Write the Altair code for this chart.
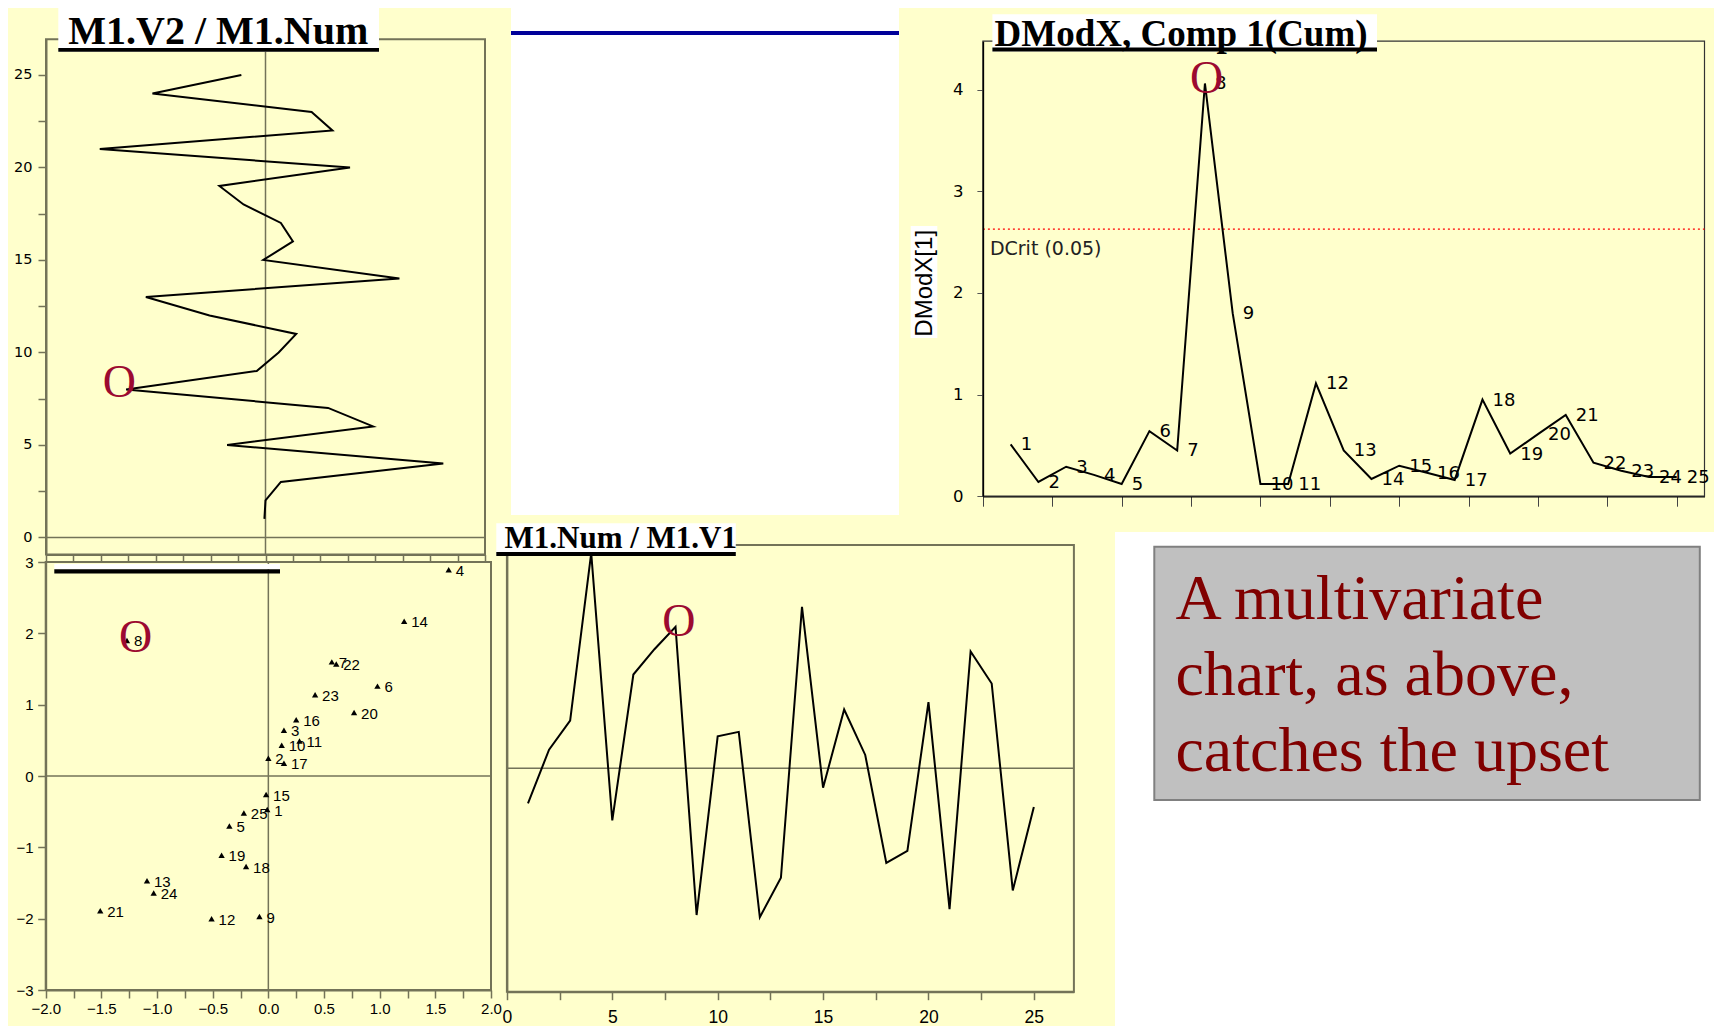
import altair as alt
import pandas as pd

# ---------------- data ----------------
obs = list(range(1, 26))
v1 = [-0.47, 0.25, 0.64, 2.89, -0.70, 1.26, 1.60, 1.90, -1.97, 0.43,
      0.49, -2.00, -1.47, 2.17, -0.26, 0.79, 0.18, -1.27, -1.11, 0.89,
      -1.89, 1.57, 1.14, -1.64, -0.52]
v2 = [-0.01, 0.00, 0.14, 1.62, -0.35, 0.98, 0.57, -1.27, -0.08, 0.12,
      0.28, -0.51, -1.09, 1.22, -0.02, 0.25, 0.14, -0.20, -0.42, 0.77,
      -1.51, 0.61, 0.42, -1.03, -0.22]
dmodx = [0.51, 0.14, 0.29, 0.21, 0.12, 0.64, 0.45, 4.06, 1.80, 0.12,
         0.12, 1.11, 0.45, 0.17, 0.30, 0.23, 0.16, 0.95, 0.42, 0.61,
         0.80, 0.33, 0.25, 0.19, 0.19]
dcrit = 2.627
outlier = 8

panel_titles = ["M1.V2 / M1.Num", "DModX, Comp 1(Cum)", "M1.Num / M1.V1"]
dmodx_axis_title = "DModX[1]"
dcrit_label = "DCrit (0.05)"
note_lines = ["A multivariate", "chart, as above,", "catches the upset"]

# tick values
a_xticks = [-2 + 0.25 * i for i in range(17)]
a_yticks = [2.5 * i for i in range(11)]
d_xticks = [2.5 * i for i in range(11)]
d_yticks = [0.5 * i for i in range(9)]
s_xticks = [-2 + 0.25 * i for i in range(17)]
s_yticks = [-3 + 0.5 * i for i in range(13)]
b_xticks = [2.5 * i for i in range(11)]

df = pd.DataFrame({"num": obs, "v1": v1, "v2": v2, "dmodx": dmodx,
                   "label": [str(n) for n in obs]})
one = pd.DataFrame({"k": [0]})

W, H = 1706, 1018
YELLOW = "#FFFFCC"
OLIVE = "#737358"
OCOL = "#9C0A30"


def sc(domain, rng):
    return alt.Scale(domain=domain, range=rng, nice=False, zero=False)


def ax(**kw):
    base = dict(title=None, grid=False, labelFlush=False, labelOverlap=False,
                labelColor="black")
    base.update(kw)
    return alt.Axis(**base)


def box(x1, x2, y1, y2, **mk):
    return alt.Chart(one).mark_rect(**mk).encode(
        x=alt.value(x1), x2=alt.value(x2), y=alt.value(y1), y2=alt.value(y2))


def frame(xs, ys, xd, yd, color, width):
    return alt.Chart(one).mark_rect(fillOpacity=0, stroke=color, strokeWidth=width).encode(
        x=alt.XDatum(xd[0], scale=xs, axis=None), x2=alt.X2Datum(xd[1]),
        y=alt.YDatum(yd[0], scale=ys, axis=None), y2=alt.Y2Datum(yd[1]))


def vline(xs, ys, xv, yd, color, width):
    return alt.Chart(one).mark_rule(color=color, strokeWidth=width).encode(
        x=alt.XDatum(xv, scale=xs, axis=None),
        y=alt.YDatum(yd[0], scale=ys, axis=None), y2=alt.Y2Datum(yd[1]))


def hline(xs, ys, xd, yv, color, width, **mk):
    return alt.Chart(one).mark_rule(color=color, strokeWidth=width, **mk).encode(
        x=alt.XDatum(xd[0], scale=xs, axis=None), x2=alt.X2Datum(xd[1]),
        y=alt.YDatum(yv, scale=ys, axis=None))


base = alt.Chart(df)

# ---------------- panel A : M1.V2 / M1.Num (top left) ----------------
A_XD, A_YD = [-2, 2], [-0.93, 26.93]
A_LEFT, A_BOTTOM = 38, 546.6
XA = sc(A_XD, [A_LEFT, 477])
YA = sc(A_YD, [A_BOTTOM, 31.3])

a_frame = frame(XA, YA, A_XD, A_YD, OLIVE, 2)
a_zero_v = vline(XA, YA, 0, A_YD, OLIVE, 1.5)
a_zero_h = hline(XA, YA, A_XD, 0, OLIVE, 1.5)
a_line = base.mark_line(color="black", strokeWidth=2).encode(
    x=alt.X("v2:Q", scale=XA, axis=ax(orient="bottom", offset=A_BOTTOM - H, values=a_xticks,
                                      labels=False, tickSize=6, domainColor=OLIVE,
                                      tickColor=OLIVE, domainWidth=2, tickWidth=1.5)),
    y=alt.Y("num:Q", scale=YA, axis=ax(orient="left", offset=-A_LEFT, values=a_yticks,
                                       format="d",
                                       labelExpr="datum.value % 5 == 0 ? datum.label : ''",
                                       tickSize=8, labelPadding=6, labelFont="DejaVu Sans",
                                       labelFontSize=14.5, domainColor=OLIVE, tickColor=OLIVE,
                                       domainWidth=2, tickWidth=1.5)),
    order="num:Q")

# ---------------- panel S : scatter V2 (x) vs V1 (y) (bottom left) ----------------
S_XD, S_YD = [-2, 2], [-3, 3]
S_LEFT, S_BOTTOM = 37.7, 982
XS = sc(S_XD, [S_LEFT, 483])
YS = sc(S_YD, [S_BOTTOM, 554])

s_frame = frame(XS, YS, S_XD, S_YD, OLIVE, 2)
s_zero_v = vline(XS, YS, 0, S_YD, OLIVE, 1.5)
s_zero_h = hline(XS, YS, S_XD, 0, OLIVE, 1.5)
s_points = base.mark_point(shape="triangle-up", filled=True, color="black", size=40,
                           opacity=1).encode(
    x=alt.X("v2:Q", scale=XS, axis=ax(orient="bottom", offset=S_BOTTOM - H, values=s_xticks,
                                      format=".1f",
                                      labelExpr="abs(datum.value % 0.5) < 1e-9 ? datum.label : ''",
                                      tickSize=8, labelPadding=3, labelFont="Liberation Sans",
                                      labelFontSize=15, domainColor=OLIVE, tickColor=OLIVE,
                                      domainWidth=2, tickWidth=1.5)),
    y=alt.Y("v1:Q", scale=YS, axis=ax(orient="left", offset=-S_LEFT, values=s_yticks,
                                      format="d",
                                      labelExpr="datum.value % 1 == 0 ? datum.label : ''",
                                      tickSize=8, labelPadding=4.5, labelFont="Liberation Sans",
                                      labelFontSize=15, domainColor=OLIVE, tickColor=OLIVE,
                                      domainWidth=2, tickWidth=1.5)))
s_labels = base.mark_text(align="left", baseline="middle", dx=7, dy=1,
                          font="Liberation Sans", fontSize=15, color="black").encode(
    x=alt.X("v2:Q", scale=XS, axis=None), y=alt.Y("v1:Q", scale=YS, axis=None),
    text="label:N")

# ---------------- panel B : M1.Num / M1.V1 (bottom middle) ----------------
B_XD, B_YD = [0, 26.9], [-3, 3]
B_LEFT, B_BOTTOM = 498.9, 983.7
XB = sc(B_XD, [B_LEFT, 1065.9])
YB = sc(B_YD, [B_BOTTOM, 537])

b_frame = frame(XB, YB, B_XD, B_YD, OLIVE, 2)
b_zero_h = hline(XB, YB, B_XD, 0, OLIVE, 1.5)
b_line = base.mark_line(color="black", strokeWidth=2).encode(
    x=alt.X("num:Q", scale=XB, axis=ax(orient="bottom", offset=B_BOTTOM - H, values=b_xticks,
                                       format="d",
                                       labelExpr="datum.value % 5 == 0 ? datum.label : ''",
                                       tickSize=8, labelPadding=9, labelFont="Liberation Sans",
                                       labelFontSize=17.5, domainColor=OLIVE, tickColor=OLIVE,
                                       domainWidth=2, tickWidth=1.5)),
    y=alt.Y("v1:Q", scale=YB, axis=ax(orient="left", offset=-B_LEFT, ticks=False, labels=False,
                                      domainColor=OLIVE, domainWidth=2)),
    order="num:Q")

# ---------------- panel D : DModX (top right) ----------------
D_XD, D_YD = [0, 26], [0, 4.476]
D_LEFT, D_BOTTOM = 974.9, 488.2
XD = sc(D_XD, [D_LEFT, 1696.5])
YD = sc(D_YD, [D_BOTTOM, 33.2])

d_frame = frame(XD, YD, D_XD, D_YD, "#333333", 1.2)
d_crit = hline(XD, YD, D_XD, dcrit, "red", 1.3, strokeDash=[2, 3])
d_crit_text = alt.Chart(one).mark_text(text=dcrit_label, align="left", baseline="middle",
                                       dx=7, dy=20, font="DejaVu Sans", fontSize=19,
                                       color="#222222").encode(
    x=alt.XDatum(0, scale=XD, axis=None), y=alt.YDatum(dcrit, scale=YD, axis=None))
d_line = base.mark_line(color="black", strokeWidth=2).encode(
    x=alt.X("num:Q", scale=XD, axis=ax(orient="bottom", offset=D_BOTTOM - H, values=d_xticks,
                                       labels=False, tickSize=10, domainColor="black",
                                       tickColor="#444444", domainWidth=1.5)),
    y=alt.Y("dmodx:Q", scale=YD, axis=ax(orient="left", offset=-D_LEFT, values=d_yticks,
                                         format="d",
                                         labelExpr="datum.value % 1 == 0 ? datum.label : ''",
                                         tickSize=6, labelPadding=14, labelFont="DejaVu Sans",
                                         labelFontSize=16.5, domainColor="black",
                                         tickColor="#555555", domainWidth=1.5,
                                         title=dmodx_axis_title, titleFont="Liberation Sans",
                                         titleFontSize=24, titleFontWeight="normal",
                                         titleColor="black", titleAngle=270,
                                         titleBaseline="middle", titleAlign="center",
                                         titleX=916 - D_LEFT, titleY=274.8, zindex=1)),
    order="num:Q")
d_labels = base.mark_text(align="left", baseline="middle", dx=10, dy=1,
                          font="DejaVu Sans", fontSize=18, color="black").encode(
    x=alt.X("num:Q", scale=XD, axis=None), y=alt.Y("dmodx:Q", scale=YD, axis=None),
    text="label:N")

# ---------------- outlier markers ----------------
def omark(xf, yf, xs, ys, dx, dy):
    return base.transform_filter(alt.datum.num == outlier).mark_text(
        text="O", font="Liberation Serif", fontSize=46, color=OCOL,
        align="center", baseline="middle", dx=dx, dy=dy).encode(
        x=alt.X(xf, scale=xs, axis=None), y=alt.Y(yf, scale=ys, axis=None))


o_a = omark("v2:Q", "num:Q", XA, YA, -6.7, -6.9)
o_d = omark("num:Q", "dmodx:Q", XD, YD, 1.7, -4.8)
o_s = omark("v2:Q", "v1:Q", XS, YS, 8.6, -2.0)
o_b = omark("num:Q", "v1:Q", XB, YB, 3.3, -4.8)

# ---------------- decorations ----------------
white_top = box(503, 891, 0, 507, color="white")
white_br = box(1107, W, 524, H, color="white")
blue_rule = alt.Chart(one).mark_rule(color="#000099", strokeWidth=4).encode(
    x=alt.value(503), x2=alt.value(891), y=alt.value(25))


def title_box(x1, x2, y1, y2, bar, text, tx, ty, size):
    return [
        box(x1, x2, y1, y2, color="white"),
        box(x1, x2, y2 - bar, y2, color="black"),
        alt.Chart(one).mark_text(text=text, font="Liberation Serif", fontWeight="bold",
                                 fontSize=size, align="left", baseline="alphabetic",
                                 color="black").encode(x=alt.value(tx), y=alt.value(ty)),
    ]


t_a = title_box(50.3, 371, 0, 43.8, 3.8, panel_titles[0], 60.3, 36, 40)
t_d = title_box(984.4, 1369, 6.2, 43.4, 4, panel_titles[1], 986.5, 37.5, 37)
t_b = title_box(488.3, 727.8, 515.3, 548, 4, panel_titles[2], 496.5, 540, 31)
s_title_rest = [box(46.3, 272, 556, 561.3, color="white"),
                box(46.3, 272, 561.3, 565.5, color="black")]
d_ytitle_bg = box(902.7, 929.3, 218, 330, color="white")

note_box = box(1146.3, 1691.8, 538.7, 792, color="#C0C0C0", stroke="#808080", strokeWidth=2)
note_text = alt.Chart(one).mark_text(text=note_lines, lineHeight=76, font="Liberation Serif",
                                     fontSize=64, color="#800000", align="left",
                                     baseline="alphabetic").encode(
    x=alt.value(1167.4), y=alt.value(611.3))

layers = [white_top, white_br, blue_rule,
          a_frame, a_zero_v, a_zero_h, a_line,
          s_frame, s_zero_v, s_zero_h, s_points, s_labels,
          b_frame, b_zero_h, b_line,
          d_ytitle_bg, d_frame, d_crit, d_crit_text, d_line, d_labels,
          *t_a, *t_d, *t_b, *s_title_rest,
          o_a, o_d, o_s, o_b,
          note_box, note_text]

chart = alt.layer(*layers).resolve_scale(
    x="independent", y="independent").resolve_axis(
    x="independent", y="independent").properties(
    width=W, height=H, padding=0, background=YELLOW,
    autosize=alt.AutoSizeParams(type="none")).configure_view(strokeWidth=0)

chart.save("out.html", embed_options={"renderer": "svg", "actions": False})
